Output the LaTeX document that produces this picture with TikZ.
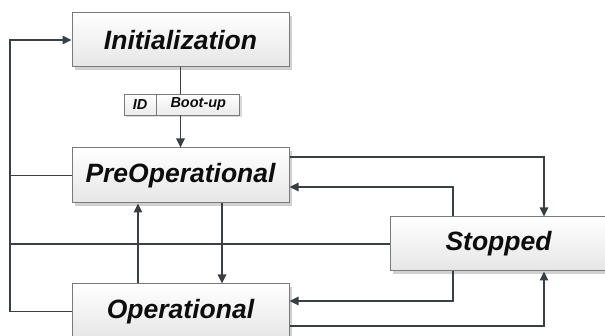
\documentclass[tikz,border=0pt]{standalone}
\usepackage{fontspec}
\setmainfont{Liberation Sans}
\usetikzlibrary{arrows.meta,shadows}
\definecolor{linec}{HTML}{3A3F44}
\definecolor{boxline}{HTML}{7A7A7A}
\tikzset{
  statebox/.style={draw=boxline, line width=1pt, top color=white, bottom color=black!10,
    minimum width=217pt, inner sep=0pt, text=black!95,
    font=\fontsize{26.5}{30}\selectfont\bfseries\itshape,
    drop shadow={shadow xshift=3pt, shadow yshift=-3pt, fill=black!18, opacity=1}},
  tagbox/.style={draw=boxline, line width=0.8pt, top color=white, bottom color=black!8,
    minimum height=21pt, inner sep=0pt, text=black!95,
    font=\fontsize{14.5}{16}\selectfont\bfseries\itshape,
    drop shadow={shadow xshift=2pt, shadow yshift=-2pt, fill=black!15, opacity=1}},
  conn/.style={draw=linec, line width=1.5pt},
  arr/.style={conn, -{Triangle[length=9pt,width=8.5pt]}}
}
\begin{document}
\begin{tikzpicture}[x=1pt,y=-1pt]
\useasboundingbox (0,0) rectangle (605,336);
\clip (0,0) rectangle (605,336);
\coordinate (bus) at (10,0);
\coordinate (xa) at (138,0);
\coordinate (xb) at (222,0);
\coordinate (sL) at (453,0);
\coordinate (sR) at (544,0);

\node[statebox, minimum height=54pt] (init) at (180.5,40) {Initialization};
\node[statebox, minimum height=55pt] (preop) at (180.5,175.5) {PreOperational};
\node[statebox, minimum height=55pt] (op) at (180.5,311.5) {Operational};
\node[statebox, minimum height=54pt] (stop) at (498.5,244) {Stopped};

\node[tagbox, minimum width=32pt] (id) at (140,104.5) {ID};
\node[tagbox, minimum width=83pt, anchor=west] (boot) at (id.east) {Boot-up};

% Initialization -> PreOperational
\draw[conn] (init.south) -- (boot.north -| init.south);
\draw[arr] (boot.south -| init.south) -- (preop.north);

% left bus back to Initialization
\draw[arr] (op.west) -- (op.west -| bus) -- (init.west -| bus) -- (init.west);
\draw[conn] (preop.west) -- (preop.west -| bus);
\draw[conn] (stop.west) -- (stop.west -| bus);

% PreOperational <-> Operational
\draw[arr] (op.north -| xa) -- (preop.south -| xa);
\draw[arr] (preop.south -| xb) -- (op.north -| xb);

% PreOperational <-> Stopped
\draw[arr] ([yshift=18.5pt]preop.east) -| (stop.north -| sR);
\draw[arr] (stop.north -| sL) |- ([yshift=-11.5pt]preop.east);

% Operational <-> Stopped
\draw[arr] (stop.south -| sL) |- ([yshift=10.5pt]op.east);
\draw[arr] ([yshift=-14.5pt]op.east) -| (stop.south -| sR);
\end{tikzpicture}
\end{document}
